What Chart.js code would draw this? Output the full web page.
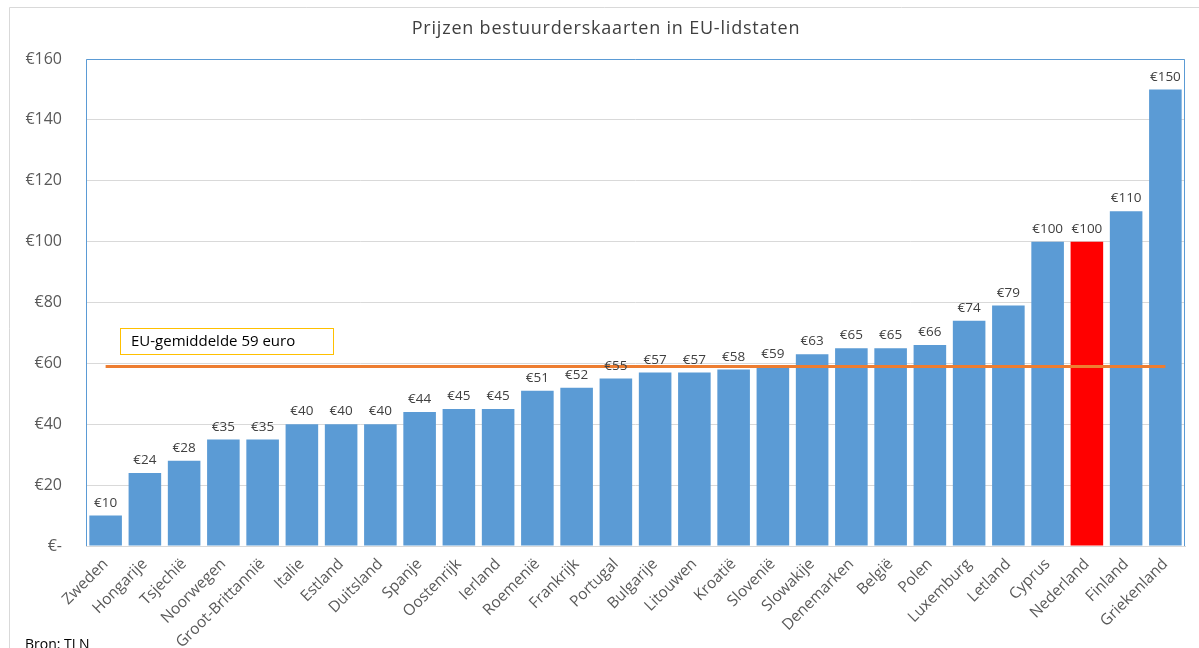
<!DOCTYPE html>
<html><head><meta charset="utf-8">
<script src="https://cdn.jsdelivr.net/npm/chart.js@4"></script>
<style>html,body{margin:0;padding:0;background:#fff}#wrap{width:1199px;height:648px;position:relative}</style>
</head><body><div id="wrap"><canvas id="c" width="1199" height="648"></canvas></div>
<script>
const categories = ["Zweden","Hongarije","Tsjechië","Noorwegen","Groot-Brittannië","Italie","Estland","Duitsland","Spanje","Oostenrijk","Ierland","Roemenië","Frankrijk","Portugal","Bulgarije","Litouwen","Kroatië","Slovenië","Slowakije","Denemarken","België","Polen","Luxemburg","Letland","Cyprus","Nederland","Finland","Griekenland"];
const prices = [10,24,28,35,35,40,40,40,44,45,45,51,52,55,57,57,58,59,63,65,65,66,74,79,100,100,110,150];
const euAverage = 59;
const yTicks = [0,20,40,60,80,100,120,140,160];
const highlight = "Nederland";
const titleText = "Prijzen bestuurderskaarten in EU-lidstaten";
const legendText = "EU-gemiddelde 59 euro";
const sourceText = "Bron: TLN";

const FONT = "'Open Sans', 'Noto Sans', sans-serif";
const barColors = categories.map(c => c === highlight ? "#FF0000" : "#5B9BD5");

const decor = {
  id: "decor",
  beforeDraw(chart) {
    const ctx = chart.ctx;
    ctx.save();
    ctx.fillStyle = "#fff";
    ctx.fillRect(0,0,chart.width,chart.height);
    ctx.strokeStyle = "#D9D9D9";
    ctx.lineWidth = 1;
    ctx.beginPath();
    ctx.moveTo(9.5, 660);
    ctx.lineTo(9.5, 7.5);
    ctx.lineTo(1199, 7.5);
    ctx.stroke();
    ctx.restore();
  },
  afterDatasetsDraw(chart) {
    const ctx = chart.ctx;
    const a = chart.chartArea;
    ctx.save();
    ctx.strokeStyle = "#5B9BD5";
    ctx.lineWidth = 1;
    ctx.beginPath();
    ctx.moveTo(a.left + 0.5, a.bottom);
    ctx.lineTo(a.left + 0.5, a.top + 0.5);
    ctx.lineTo(a.right - 0.5, a.top + 0.5);
    ctx.lineTo(a.right - 0.5, a.bottom);
    ctx.stroke();
    const meta = chart.getDatasetMeta(1);
    ctx.fillStyle = "#404040";
    ctx.font = "13.5px " + FONT;
    ctx.textAlign = "center";
    ctx.textBaseline = "bottom";
    meta.data.forEach((bar, i) => {
      ctx.fillText("€" + prices[i], bar.x, bar.y - 6);
    });
    ctx.fillStyle = "#404040";
    ctx.font = "18px " + FONT;
    try { ctx.letterSpacing = "0.8px"; } catch (e) {}
    ctx.textBaseline = "middle";
    ctx.fillText(titleText, 606, 29);
    try { ctx.letterSpacing = "0px"; } catch (e) {}
    ctx.strokeStyle = "#FFC000";
    ctx.lineWidth = 1;
    ctx.strokeRect(120.5, 328.5, 213, 26);
    ctx.fillStyle = "#000";
    ctx.font = "15px " + FONT;
    ctx.textAlign = "left";
    ctx.fillText(legendText, 131, 342);
    ctx.font = "14px " + FONT;
    ctx.fillText(sourceText, 25, 645);
    ctx.restore();
  }
};

new Chart(document.getElementById("c"), {
  data: {
    labels: categories,
    datasets: [
      {
        type: "line",
        data: categories.map(() => euAverage),
        borderColor: "#ED7D31",
        borderWidth: 3,
        pointRadius: 0,
        order: 0
      },
      {
        type: "bar",
        data: prices,
        backgroundColor: barColors,
        barPercentage: 0.83,
        categoryPercentage: 1.0,
        order: 1
      }
    ]
  },
  options: {
    responsive: false,
    animation: false,
    layout: { padding: { top: 59, right: 14, left: 0, bottom: 0 } },
    plugins: { legend: { display: false }, title: { display: false }, tooltip: { enabled: false } },
    scales: {
      x: {
        grid: { display: false, drawTicks: false },
        border: { color: "#D9D9D9" },
        ticks: { minRotation: 45, maxRotation: 45, color: "#595959", font: { family: FONT, size: 15.5 }, padding: 9, autoSkip: false },
        afterFit(s) { s.height = 102; }
      },
      y: {
        min: 0, max: 160,
        afterBuildTicks(s) { s.ticks = yTicks.map(v => ({ value: v })); },
        grid: { color: "#D9D9D9", drawTicks: false },
        border: { display: false },
        ticks: {
          color: "#595959", font: { family: FONT, size: 16 }, padding: 24,
          callback: v => v === 0 ? "€-" : "€" + v
        },
        afterFit(s) { s.width = 86; }
      }
    }
  },
  plugins: [decor]
});
</script></body></html>
